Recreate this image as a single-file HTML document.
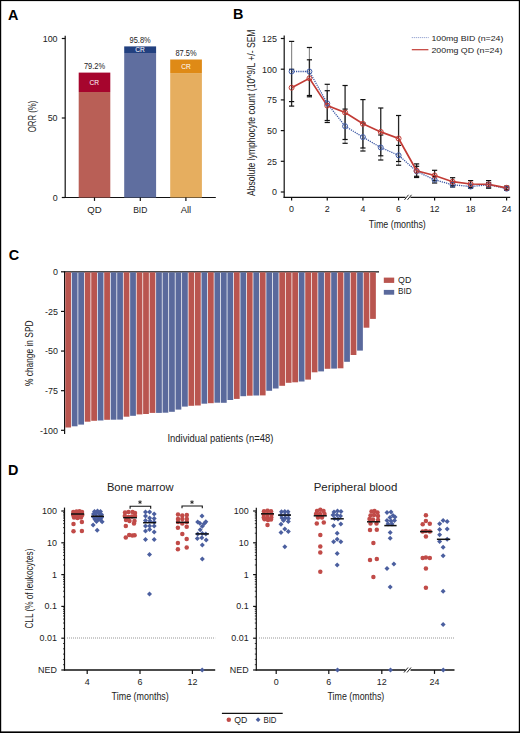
<!DOCTYPE html>
<html><head><meta charset="utf-8"><style>
html,body{margin:0;padding:0;background:#fff;width:520px;height:733px;overflow:hidden}
svg{display:block}
text{font-family:"Liberation Sans", sans-serif}
</style></head><body>
<svg width="520" height="733" viewBox="0 0 520 733">
<rect width="520" height="733" fill="#fff"/>
<rect x="0.00" y="0.00" width="520.00" height="1.10" fill="#000"/>
<rect x="0.00" y="0.00" width="1.20" height="733.00" fill="#000"/>
<rect x="518.80" y="0.00" width="1.20" height="733.00" fill="#000"/>
<rect x="0.00" y="731.40" width="520.00" height="1.60" fill="#000"/>
<text x="7.90" y="19.60" font-size="14.4" text-anchor="start" fill="#000" font-weight="bold" >A</text>
<text x="232.90" y="18.50" font-size="14.4" text-anchor="start" fill="#000" font-weight="bold" >B</text>
<text x="8.70" y="259.80" font-size="14.4" text-anchor="start" fill="#000" font-weight="bold" >C</text>
<text x="8.10" y="474.60" font-size="14.4" text-anchor="start" fill="#000" font-weight="bold" >D</text>
<line x1="65.20" y1="35.80" x2="65.20" y2="198.10" stroke="#111" stroke-width="1.2" />
<line x1="64.60" y1="197.50" x2="215.80" y2="197.50" stroke="#111" stroke-width="1.2" />
<line x1="61.80" y1="197.50" x2="65.20" y2="197.50" stroke="#111" stroke-width="1.2" />
<text x="57.60" y="200.80" font-size="9.6" text-anchor="end" fill="#222" textLength="4.97" lengthAdjust="spacingAndGlyphs" >0</text>
<line x1="61.80" y1="118.00" x2="65.20" y2="118.00" stroke="#111" stroke-width="1.2" />
<text x="57.60" y="121.30" font-size="9.6" text-anchor="end" fill="#222" textLength="9.93" lengthAdjust="spacingAndGlyphs" >50</text>
<line x1="61.80" y1="38.50" x2="65.20" y2="38.50" stroke="#111" stroke-width="1.2" />
<text x="57.60" y="41.80" font-size="9.6" text-anchor="end" fill="#222" textLength="14.90" lengthAdjust="spacingAndGlyphs" >100</text>
<rect x="78.70" y="92.00" width="31.60" height="105.50" fill="#b95f56"/>
<rect x="78.70" y="72.60" width="31.60" height="19.40" fill="#a6052d"/>
<line x1="94.50" y1="197.50" x2="94.50" y2="200.90" stroke="#111" stroke-width="1.2" />
<text x="94.50" y="212.90" font-size="9.6" text-anchor="middle" fill="#222" textLength="14.40" lengthAdjust="spacingAndGlyphs" >QD</text>
<text x="94.50" y="69.30" font-size="8.3" text-anchor="middle" fill="#222" textLength="21.20" lengthAdjust="spacingAndGlyphs" >79.2%</text>
<rect x="124.20" y="53.00" width="31.90" height="144.50" fill="#5f6e9f"/>
<rect x="124.20" y="46.40" width="31.90" height="6.60" fill="#22407f"/>
<line x1="140.30" y1="197.50" x2="140.30" y2="200.90" stroke="#111" stroke-width="1.2" />
<text x="140.30" y="212.90" font-size="9.6" text-anchor="middle" fill="#222" textLength="14.20" lengthAdjust="spacingAndGlyphs" >BID</text>
<text x="140.15" y="43.10" font-size="8.3" text-anchor="middle" fill="#222" textLength="21.20" lengthAdjust="spacingAndGlyphs" >95.8%</text>
<rect x="170.20" y="73.10" width="31.70" height="124.40" fill="#e6ae5f"/>
<rect x="170.20" y="59.50" width="31.70" height="13.60" fill="#df8a16"/>
<line x1="185.90" y1="197.50" x2="185.90" y2="200.90" stroke="#111" stroke-width="1.2" />
<text x="185.90" y="212.90" font-size="9.6" text-anchor="middle" fill="#222" textLength="10.50" lengthAdjust="spacingAndGlyphs" >All</text>
<text x="186.05" y="56.30" font-size="8.3" text-anchor="middle" fill="#222" textLength="21.20" lengthAdjust="spacingAndGlyphs" >87.5%</text>
<text x="94.30" y="84.90" font-size="8" text-anchor="middle" fill="#fff" textLength="9.60" lengthAdjust="spacingAndGlyphs" >CR</text>
<text x="140.00" y="52.10" font-size="8" text-anchor="middle" fill="#fff" textLength="9.60" lengthAdjust="spacingAndGlyphs" >CR</text>
<text x="186.10" y="68.90" font-size="8" text-anchor="middle" fill="#fff" textLength="9.60" lengthAdjust="spacingAndGlyphs" >CR</text>
<text x="36.30" y="132.30" font-size="11" text-anchor="start" fill="#222" textLength="31.70" lengthAdjust="spacingAndGlyphs" transform="rotate(-90 36.30 132.30)" >ORR (%)</text>
<line x1="284.20" y1="35.40" x2="284.20" y2="197.90" stroke="#111" stroke-width="1.2" />
<line x1="280.80" y1="192.00" x2="284.20" y2="192.00" stroke="#111" stroke-width="1.2" />
<text x="277.00" y="195.30" font-size="9.6" text-anchor="end" fill="#222" textLength="4.97" lengthAdjust="spacingAndGlyphs" >0</text>
<line x1="280.80" y1="161.30" x2="284.20" y2="161.30" stroke="#111" stroke-width="1.2" />
<text x="277.00" y="164.60" font-size="9.6" text-anchor="end" fill="#222" textLength="9.93" lengthAdjust="spacingAndGlyphs" >25</text>
<line x1="280.80" y1="130.60" x2="284.20" y2="130.60" stroke="#111" stroke-width="1.2" />
<text x="277.00" y="133.90" font-size="9.6" text-anchor="end" fill="#222" textLength="9.93" lengthAdjust="spacingAndGlyphs" >50</text>
<line x1="280.80" y1="99.90" x2="284.20" y2="99.90" stroke="#111" stroke-width="1.2" />
<text x="277.00" y="103.20" font-size="9.6" text-anchor="end" fill="#222" textLength="9.93" lengthAdjust="spacingAndGlyphs" >75</text>
<line x1="280.80" y1="69.20" x2="284.20" y2="69.20" stroke="#111" stroke-width="1.2" />
<text x="277.00" y="72.50" font-size="9.6" text-anchor="end" fill="#222" textLength="14.90" lengthAdjust="spacingAndGlyphs" >100</text>
<line x1="280.80" y1="38.50" x2="284.20" y2="38.50" stroke="#111" stroke-width="1.2" />
<text x="277.00" y="41.80" font-size="9.6" text-anchor="end" fill="#222" textLength="14.90" lengthAdjust="spacingAndGlyphs" >125</text>
<line x1="283.60" y1="197.30" x2="405.50" y2="197.30" stroke="#111" stroke-width="1.2" />
<line x1="410.50" y1="197.30" x2="510.20" y2="197.30" stroke="#111" stroke-width="1.2" />
<line x1="404.50" y1="199.80" x2="408.50" y2="194.80" stroke="#111" stroke-width="0.9" />
<line x1="407.50" y1="199.80" x2="411.50" y2="194.80" stroke="#111" stroke-width="0.9" />
<line x1="291.60" y1="197.30" x2="291.60" y2="200.40" stroke="#111" stroke-width="1.2" />
<text x="291.60" y="212.40" font-size="9.6" text-anchor="middle" fill="#222" textLength="4.97" lengthAdjust="spacingAndGlyphs" >0</text>
<line x1="327.26" y1="197.30" x2="327.26" y2="200.40" stroke="#111" stroke-width="1.2" />
<text x="327.26" y="212.40" font-size="9.6" text-anchor="middle" fill="#222" textLength="4.97" lengthAdjust="spacingAndGlyphs" >2</text>
<line x1="362.92" y1="197.30" x2="362.92" y2="200.40" stroke="#111" stroke-width="1.2" />
<text x="362.92" y="212.40" font-size="9.6" text-anchor="middle" fill="#222" textLength="4.97" lengthAdjust="spacingAndGlyphs" >4</text>
<line x1="398.58" y1="197.30" x2="398.58" y2="200.40" stroke="#111" stroke-width="1.2" />
<text x="398.58" y="212.40" font-size="9.6" text-anchor="middle" fill="#222" textLength="4.97" lengthAdjust="spacingAndGlyphs" >6</text>
<line x1="434.60" y1="197.30" x2="434.60" y2="200.40" stroke="#111" stroke-width="1.2" />
<text x="434.60" y="212.40" font-size="9.6" text-anchor="middle" fill="#222" textLength="9.93" lengthAdjust="spacingAndGlyphs" >12</text>
<line x1="470.60" y1="197.30" x2="470.60" y2="200.40" stroke="#111" stroke-width="1.2" />
<text x="470.60" y="212.40" font-size="9.6" text-anchor="middle" fill="#222" textLength="9.93" lengthAdjust="spacingAndGlyphs" >18</text>
<line x1="506.60" y1="197.30" x2="506.60" y2="200.40" stroke="#111" stroke-width="1.2" />
<text x="506.60" y="212.40" font-size="9.6" text-anchor="middle" fill="#222" textLength="9.93" lengthAdjust="spacingAndGlyphs" >24</text>
<text x="397.30" y="227.60" font-size="11" text-anchor="middle" fill="#222" textLength="57.00" lengthAdjust="spacingAndGlyphs" >Time (months)</text>
<text x="255.00" y="196.00" font-size="11.3" text-anchor="start" fill="#222" textLength="166.50" lengthAdjust="spacingAndGlyphs" transform="rotate(-90 255.00 196.00)" >Absolute lymphocyte count (10^9/L +/- SEM</text>
<line x1="291.60" y1="41.40" x2="291.60" y2="101.60" stroke="#8c8c8c" stroke-width="1.2" />
<line x1="309.43" y1="47.50" x2="309.43" y2="95.50" stroke="#8c8c8c" stroke-width="1.2" />
<line x1="327.26" y1="84.30" x2="327.26" y2="122.50" stroke="#8c8c8c" stroke-width="1.2" />
<line x1="345.09" y1="109.10" x2="345.09" y2="143.30" stroke="#8c8c8c" stroke-width="1.2" />
<line x1="362.92" y1="123.20" x2="362.92" y2="151.00" stroke="#8c8c8c" stroke-width="1.2" />
<line x1="380.75" y1="135.00" x2="380.75" y2="160.00" stroke="#8c8c8c" stroke-width="1.2" />
<line x1="398.58" y1="145.40" x2="398.58" y2="165.20" stroke="#8c8c8c" stroke-width="1.2" />
<line x1="416.60" y1="166.30" x2="416.60" y2="176.30" stroke="#8c8c8c" stroke-width="1.2" />
<line x1="434.60" y1="176.60" x2="434.60" y2="183.00" stroke="#8c8c8c" stroke-width="1.2" />
<line x1="452.60" y1="182.60" x2="452.60" y2="187.00" stroke="#8c8c8c" stroke-width="1.2" />
<line x1="470.60" y1="184.80" x2="470.60" y2="188.20" stroke="#8c8c8c" stroke-width="1.2" />
<line x1="488.60" y1="182.60" x2="488.60" y2="187.00" stroke="#8c8c8c" stroke-width="1.2" />
<line x1="506.60" y1="187.10" x2="506.60" y2="190.30" stroke="#8c8c8c" stroke-width="1.2" />
<line x1="291.60" y1="69.30" x2="291.60" y2="106.10" stroke="#262626" stroke-width="1.3" />
<line x1="309.43" y1="59.80" x2="309.43" y2="96.80" stroke="#262626" stroke-width="1.3" />
<line x1="327.26" y1="90.70" x2="327.26" y2="120.50" stroke="#262626" stroke-width="1.3" />
<line x1="345.09" y1="85.50" x2="345.09" y2="139.50" stroke="#262626" stroke-width="1.3" />
<line x1="362.92" y1="99.60" x2="362.92" y2="148.00" stroke="#262626" stroke-width="1.3" />
<line x1="380.75" y1="108.00" x2="380.75" y2="155.80" stroke="#262626" stroke-width="1.3" />
<line x1="398.58" y1="115.50" x2="398.58" y2="161.50" stroke="#262626" stroke-width="1.3" />
<line x1="416.60" y1="163.90" x2="416.60" y2="177.50" stroke="#262626" stroke-width="1.3" />
<line x1="434.60" y1="170.30" x2="434.60" y2="180.70" stroke="#262626" stroke-width="1.3" />
<line x1="452.60" y1="177.70" x2="452.60" y2="185.70" stroke="#262626" stroke-width="1.3" />
<line x1="470.60" y1="180.60" x2="470.60" y2="187.40" stroke="#262626" stroke-width="1.3" />
<line x1="488.60" y1="180.60" x2="488.60" y2="188.20" stroke="#262626" stroke-width="1.3" />
<line x1="506.60" y1="186.10" x2="506.60" y2="189.50" stroke="#262626" stroke-width="1.3" />
<line x1="289.00" y1="41.40" x2="294.20" y2="41.40" stroke="#111" stroke-width="1.2" />
<line x1="289.00" y1="101.60" x2="294.20" y2="101.60" stroke="#111" stroke-width="1.2" />
<line x1="289.00" y1="69.30" x2="294.20" y2="69.30" stroke="#111" stroke-width="1.2" />
<line x1="289.00" y1="106.10" x2="294.20" y2="106.10" stroke="#111" stroke-width="1.2" />
<line x1="306.83" y1="47.50" x2="312.03" y2="47.50" stroke="#111" stroke-width="1.2" />
<line x1="306.83" y1="95.50" x2="312.03" y2="95.50" stroke="#111" stroke-width="1.2" />
<line x1="306.83" y1="59.80" x2="312.03" y2="59.80" stroke="#111" stroke-width="1.2" />
<line x1="306.83" y1="96.80" x2="312.03" y2="96.80" stroke="#111" stroke-width="1.2" />
<line x1="324.66" y1="84.30" x2="329.86" y2="84.30" stroke="#111" stroke-width="1.2" />
<line x1="324.66" y1="122.50" x2="329.86" y2="122.50" stroke="#111" stroke-width="1.2" />
<line x1="324.66" y1="90.70" x2="329.86" y2="90.70" stroke="#111" stroke-width="1.2" />
<line x1="324.66" y1="120.50" x2="329.86" y2="120.50" stroke="#111" stroke-width="1.2" />
<line x1="342.49" y1="109.10" x2="347.69" y2="109.10" stroke="#111" stroke-width="1.2" />
<line x1="342.49" y1="143.30" x2="347.69" y2="143.30" stroke="#111" stroke-width="1.2" />
<line x1="342.49" y1="85.50" x2="347.69" y2="85.50" stroke="#111" stroke-width="1.2" />
<line x1="342.49" y1="139.50" x2="347.69" y2="139.50" stroke="#111" stroke-width="1.2" />
<line x1="360.32" y1="123.20" x2="365.52" y2="123.20" stroke="#111" stroke-width="1.2" />
<line x1="360.32" y1="151.00" x2="365.52" y2="151.00" stroke="#111" stroke-width="1.2" />
<line x1="360.32" y1="99.60" x2="365.52" y2="99.60" stroke="#111" stroke-width="1.2" />
<line x1="360.32" y1="148.00" x2="365.52" y2="148.00" stroke="#111" stroke-width="1.2" />
<line x1="378.15" y1="135.00" x2="383.35" y2="135.00" stroke="#111" stroke-width="1.2" />
<line x1="378.15" y1="160.00" x2="383.35" y2="160.00" stroke="#111" stroke-width="1.2" />
<line x1="378.15" y1="108.00" x2="383.35" y2="108.00" stroke="#111" stroke-width="1.2" />
<line x1="378.15" y1="155.80" x2="383.35" y2="155.80" stroke="#111" stroke-width="1.2" />
<line x1="395.98" y1="145.40" x2="401.18" y2="145.40" stroke="#111" stroke-width="1.2" />
<line x1="395.98" y1="165.20" x2="401.18" y2="165.20" stroke="#111" stroke-width="1.2" />
<line x1="395.98" y1="115.50" x2="401.18" y2="115.50" stroke="#111" stroke-width="1.2" />
<line x1="395.98" y1="161.50" x2="401.18" y2="161.50" stroke="#111" stroke-width="1.2" />
<line x1="414.00" y1="166.30" x2="419.20" y2="166.30" stroke="#111" stroke-width="1.2" />
<line x1="414.00" y1="176.30" x2="419.20" y2="176.30" stroke="#111" stroke-width="1.2" />
<line x1="414.00" y1="163.90" x2="419.20" y2="163.90" stroke="#111" stroke-width="1.2" />
<line x1="414.00" y1="177.50" x2="419.20" y2="177.50" stroke="#111" stroke-width="1.2" />
<line x1="432.00" y1="176.60" x2="437.20" y2="176.60" stroke="#111" stroke-width="1.2" />
<line x1="432.00" y1="183.00" x2="437.20" y2="183.00" stroke="#111" stroke-width="1.2" />
<line x1="432.00" y1="170.30" x2="437.20" y2="170.30" stroke="#111" stroke-width="1.2" />
<line x1="432.00" y1="180.70" x2="437.20" y2="180.70" stroke="#111" stroke-width="1.2" />
<line x1="450.00" y1="182.60" x2="455.20" y2="182.60" stroke="#111" stroke-width="1.2" />
<line x1="450.00" y1="187.00" x2="455.20" y2="187.00" stroke="#111" stroke-width="1.2" />
<line x1="450.00" y1="177.70" x2="455.20" y2="177.70" stroke="#111" stroke-width="1.2" />
<line x1="450.00" y1="185.70" x2="455.20" y2="185.70" stroke="#111" stroke-width="1.2" />
<line x1="468.00" y1="184.80" x2="473.20" y2="184.80" stroke="#111" stroke-width="1.2" />
<line x1="468.00" y1="188.20" x2="473.20" y2="188.20" stroke="#111" stroke-width="1.2" />
<line x1="468.00" y1="180.60" x2="473.20" y2="180.60" stroke="#111" stroke-width="1.2" />
<line x1="468.00" y1="187.40" x2="473.20" y2="187.40" stroke="#111" stroke-width="1.2" />
<line x1="486.00" y1="182.60" x2="491.20" y2="182.60" stroke="#111" stroke-width="1.2" />
<line x1="486.00" y1="187.00" x2="491.20" y2="187.00" stroke="#111" stroke-width="1.2" />
<line x1="486.00" y1="180.60" x2="491.20" y2="180.60" stroke="#111" stroke-width="1.2" />
<line x1="486.00" y1="188.20" x2="491.20" y2="188.20" stroke="#111" stroke-width="1.2" />
<line x1="504.00" y1="187.10" x2="509.20" y2="187.10" stroke="#111" stroke-width="1.2" />
<line x1="504.00" y1="190.30" x2="509.20" y2="190.30" stroke="#111" stroke-width="1.2" />
<line x1="504.00" y1="186.10" x2="509.20" y2="186.10" stroke="#111" stroke-width="1.2" />
<line x1="504.00" y1="189.50" x2="509.20" y2="189.50" stroke="#111" stroke-width="1.2" />
<polyline points="291.60,71.50 309.43,71.50 327.26,103.40 345.09,126.20 362.92,137.10 380.75,147.50 398.58,155.30 416.60,171.30 434.60,179.80 452.60,184.80 470.60,186.50 488.60,184.80 506.60,188.70" fill="none" stroke="#3a56a3" stroke-width="1.3" stroke-dasharray="1.2 1"/>
<polyline points="291.60,87.70 309.43,78.30 327.26,105.60 345.09,112.50 362.92,123.80 380.75,131.90 398.58,138.50 416.60,170.70 434.60,175.50 452.60,181.70 470.60,184.00 488.60,184.40 506.60,187.80" fill="none" stroke="#c23b35" stroke-width="1.7"/>
<circle cx="291.60" cy="71.50" r="2.5" fill="none" stroke="#3f5ca8" stroke-width="1"/>
<circle cx="291.60" cy="87.70" r="2.5" fill="none" stroke="#c23b35" stroke-width="1"/>
<circle cx="309.43" cy="71.50" r="2.5" fill="none" stroke="#3f5ca8" stroke-width="1"/>
<circle cx="309.43" cy="78.30" r="2.5" fill="none" stroke="#c23b35" stroke-width="1"/>
<circle cx="327.26" cy="103.40" r="2.5" fill="none" stroke="#3f5ca8" stroke-width="1"/>
<circle cx="327.26" cy="105.60" r="2.5" fill="none" stroke="#c23b35" stroke-width="1"/>
<circle cx="345.09" cy="126.20" r="2.5" fill="none" stroke="#3f5ca8" stroke-width="1"/>
<circle cx="345.09" cy="112.50" r="2.5" fill="none" stroke="#c23b35" stroke-width="1"/>
<circle cx="362.92" cy="137.10" r="2.5" fill="none" stroke="#3f5ca8" stroke-width="1"/>
<circle cx="362.92" cy="123.80" r="2.5" fill="none" stroke="#c23b35" stroke-width="1"/>
<circle cx="380.75" cy="147.50" r="2.5" fill="none" stroke="#3f5ca8" stroke-width="1"/>
<circle cx="380.75" cy="131.90" r="2.5" fill="none" stroke="#c23b35" stroke-width="1"/>
<circle cx="398.58" cy="155.30" r="2.5" fill="none" stroke="#3f5ca8" stroke-width="1"/>
<circle cx="398.58" cy="138.50" r="2.5" fill="none" stroke="#c23b35" stroke-width="1"/>
<circle cx="416.60" cy="171.30" r="2.5" fill="none" stroke="#3f5ca8" stroke-width="1"/>
<circle cx="416.60" cy="170.70" r="2.5" fill="none" stroke="#c23b35" stroke-width="1"/>
<circle cx="434.60" cy="179.80" r="2.5" fill="none" stroke="#3f5ca8" stroke-width="1"/>
<circle cx="434.60" cy="175.50" r="2.5" fill="none" stroke="#c23b35" stroke-width="1"/>
<circle cx="452.60" cy="184.80" r="2.5" fill="none" stroke="#3f5ca8" stroke-width="1"/>
<circle cx="452.60" cy="181.70" r="2.5" fill="none" stroke="#c23b35" stroke-width="1"/>
<circle cx="470.60" cy="186.50" r="2.5" fill="none" stroke="#3f5ca8" stroke-width="1"/>
<circle cx="470.60" cy="184.00" r="2.5" fill="none" stroke="#c23b35" stroke-width="1"/>
<circle cx="488.60" cy="184.80" r="2.5" fill="none" stroke="#3f5ca8" stroke-width="1"/>
<circle cx="488.60" cy="184.40" r="2.5" fill="none" stroke="#c23b35" stroke-width="1"/>
<circle cx="506.60" cy="188.70" r="2.5" fill="none" stroke="#3f5ca8" stroke-width="1"/>
<circle cx="506.60" cy="187.80" r="2.5" fill="none" stroke="#c23b35" stroke-width="1"/>
<line x1="411.80" y1="37.60" x2="428.60" y2="37.60" stroke="#7f90c8" stroke-width="1.0" stroke-dasharray="1 1"/>
<line x1="411.80" y1="49.70" x2="428.40" y2="49.70" stroke="#c23b35" stroke-width="1.2" />
<text x="431.40" y="41.10" font-size="8.0" text-anchor="start" fill="#222" textLength="72.00" lengthAdjust="spacingAndGlyphs" >100mg BID (n=24)</text>
<text x="431.40" y="53.00" font-size="8.0" text-anchor="start" fill="#222" textLength="71.00" lengthAdjust="spacingAndGlyphs" >200mg QD (n=24)</text>
<line x1="64.60" y1="271.30" x2="64.60" y2="433.90" stroke="#111" stroke-width="1.2" />
<line x1="64.00" y1="271.80" x2="379.00" y2="271.80" stroke="#111" stroke-width="1.3" />
<line x1="61.00" y1="271.80" x2="64.60" y2="271.80" stroke="#111" stroke-width="1.2" />
<text x="57.90" y="275.10" font-size="9.6" text-anchor="end" fill="#222" textLength="4.97" lengthAdjust="spacingAndGlyphs" >0</text>
<line x1="61.00" y1="311.43" x2="64.60" y2="311.43" stroke="#111" stroke-width="1.2" />
<text x="57.90" y="314.73" font-size="9.6" text-anchor="end" fill="#222" textLength="12.90" lengthAdjust="spacingAndGlyphs" >-25</text>
<line x1="61.00" y1="351.05" x2="64.60" y2="351.05" stroke="#111" stroke-width="1.2" />
<text x="57.90" y="354.35" font-size="9.6" text-anchor="end" fill="#222" textLength="12.90" lengthAdjust="spacingAndGlyphs" >-50</text>
<line x1="61.00" y1="390.68" x2="64.60" y2="390.68" stroke="#111" stroke-width="1.2" />
<text x="57.90" y="393.98" font-size="9.6" text-anchor="end" fill="#222" textLength="12.90" lengthAdjust="spacingAndGlyphs" >-75</text>
<line x1="61.00" y1="430.30" x2="64.60" y2="430.30" stroke="#111" stroke-width="1.2" />
<text x="57.90" y="433.60" font-size="9.6" text-anchor="end" fill="#222" textLength="17.87" lengthAdjust="spacingAndGlyphs" >-100</text>
<rect x="65.30" y="272.30" width="5.75" height="155.20" fill="#b9554f"/>
<rect x="71.78" y="272.30" width="5.75" height="154.00" fill="#5a699c"/>
<rect x="78.27" y="272.30" width="5.75" height="152.30" fill="#5a699c"/>
<rect x="84.75" y="272.30" width="5.75" height="149.40" fill="#b9554f"/>
<rect x="91.24" y="272.30" width="5.75" height="148.50" fill="#b9554f"/>
<rect x="97.72" y="272.30" width="5.75" height="148.20" fill="#5a699c"/>
<rect x="104.21" y="272.30" width="5.75" height="147.50" fill="#b9554f"/>
<rect x="110.69" y="272.30" width="5.75" height="147.40" fill="#5a699c"/>
<rect x="117.18" y="272.30" width="5.75" height="147.30" fill="#5a699c"/>
<rect x="123.66" y="272.30" width="5.75" height="144.40" fill="#b9554f"/>
<rect x="130.15" y="272.30" width="5.75" height="143.50" fill="#5a699c"/>
<rect x="136.63" y="272.30" width="5.75" height="142.10" fill="#b9554f"/>
<rect x="143.12" y="272.30" width="5.75" height="141.70" fill="#b9554f"/>
<rect x="149.61" y="272.30" width="5.75" height="140.60" fill="#b9554f"/>
<rect x="156.09" y="272.30" width="5.75" height="140.60" fill="#5a699c"/>
<rect x="162.57" y="272.30" width="5.75" height="140.40" fill="#5a699c"/>
<rect x="169.06" y="272.30" width="5.75" height="139.50" fill="#5a699c"/>
<rect x="175.55" y="272.30" width="5.75" height="137.30" fill="#5a699c"/>
<rect x="182.03" y="272.30" width="5.75" height="134.30" fill="#5a699c"/>
<rect x="188.51" y="272.30" width="5.75" height="133.50" fill="#b9554f"/>
<rect x="195.00" y="272.30" width="5.75" height="133.20" fill="#b9554f"/>
<rect x="201.49" y="272.30" width="5.75" height="131.40" fill="#5a699c"/>
<rect x="207.97" y="272.30" width="5.75" height="130.90" fill="#b9554f"/>
<rect x="214.45" y="272.30" width="5.75" height="130.40" fill="#5a699c"/>
<rect x="220.94" y="272.30" width="5.75" height="130.50" fill="#5a699c"/>
<rect x="227.43" y="272.30" width="5.75" height="127.70" fill="#5a699c"/>
<rect x="233.91" y="272.30" width="5.75" height="126.60" fill="#b9554f"/>
<rect x="240.39" y="272.30" width="5.75" height="123.90" fill="#5a699c"/>
<rect x="246.88" y="272.30" width="5.75" height="123.40" fill="#b9554f"/>
<rect x="253.37" y="272.30" width="5.75" height="123.20" fill="#5a699c"/>
<rect x="259.85" y="272.30" width="5.75" height="123.10" fill="#b9554f"/>
<rect x="266.33" y="272.30" width="5.75" height="118.50" fill="#5a699c"/>
<rect x="272.82" y="272.30" width="5.75" height="116.20" fill="#5a699c"/>
<rect x="279.31" y="272.30" width="5.75" height="113.50" fill="#b9554f"/>
<rect x="285.79" y="272.30" width="5.75" height="110.50" fill="#b9554f"/>
<rect x="292.28" y="272.30" width="5.75" height="110.00" fill="#b9554f"/>
<rect x="298.76" y="272.30" width="5.75" height="109.20" fill="#5a699c"/>
<rect x="305.25" y="272.30" width="5.75" height="107.30" fill="#b9554f"/>
<rect x="311.73" y="272.30" width="5.75" height="100.00" fill="#b9554f"/>
<rect x="318.22" y="272.30" width="5.75" height="99.10" fill="#5a699c"/>
<rect x="324.70" y="272.30" width="5.75" height="96.50" fill="#b9554f"/>
<rect x="331.19" y="272.30" width="5.75" height="96.30" fill="#5a699c"/>
<rect x="337.67" y="272.30" width="5.75" height="96.00" fill="#b9554f"/>
<rect x="344.16" y="272.30" width="5.75" height="89.50" fill="#5a699c"/>
<rect x="350.64" y="272.30" width="5.75" height="82.70" fill="#b9554f"/>
<rect x="357.12" y="272.30" width="5.75" height="78.30" fill="#5a699c"/>
<rect x="363.61" y="272.30" width="5.75" height="55.40" fill="#b9554f"/>
<rect x="370.10" y="272.30" width="5.75" height="46.60" fill="#b9554f"/>
<rect x="383.80" y="277.60" width="10.40" height="5.30" fill="#b9554f"/>
<rect x="383.80" y="289.90" width="10.40" height="4.80" fill="#5a699c"/>
<text x="398.10" y="282.90" font-size="8.2" text-anchor="start" fill="#222" textLength="13.20" lengthAdjust="spacingAndGlyphs" >QD</text>
<text x="398.10" y="294.40" font-size="8.2" text-anchor="start" fill="#222" textLength="13.60" lengthAdjust="spacingAndGlyphs" >BID</text>
<text x="220.40" y="442.00" font-size="11" text-anchor="middle" fill="#222" textLength="105.90" lengthAdjust="spacingAndGlyphs" >Individual patients (n=48)</text>
<text x="33.10" y="386.00" font-size="11" text-anchor="start" fill="#222" textLength="65.50" lengthAdjust="spacingAndGlyphs" transform="rotate(-90 33.10 386.00)" >% change in SPD</text>
<line x1="64.50" y1="507.60" x2="64.50" y2="670.60" stroke="#111" stroke-width="1.2" />
<line x1="61.30" y1="511.00" x2="64.50" y2="511.00" stroke="#111" stroke-width="1.2" />
<line x1="61.30" y1="542.80" x2="64.50" y2="542.80" stroke="#111" stroke-width="1.2" />
<line x1="61.30" y1="574.60" x2="64.50" y2="574.60" stroke="#111" stroke-width="1.2" />
<line x1="61.30" y1="606.40" x2="64.50" y2="606.40" stroke="#111" stroke-width="1.2" />
<line x1="61.30" y1="638.20" x2="64.50" y2="638.20" stroke="#111" stroke-width="1.2" />
<line x1="61.30" y1="670.00" x2="64.50" y2="670.00" stroke="#111" stroke-width="1.2" />
<line x1="63.00" y1="533.23" x2="64.50" y2="533.23" stroke="#111" stroke-width="0.8" />
<line x1="63.00" y1="527.63" x2="64.50" y2="527.63" stroke="#111" stroke-width="0.8" />
<line x1="63.00" y1="523.65" x2="64.50" y2="523.65" stroke="#111" stroke-width="0.8" />
<line x1="63.00" y1="520.57" x2="64.50" y2="520.57" stroke="#111" stroke-width="0.8" />
<line x1="63.00" y1="518.05" x2="64.50" y2="518.05" stroke="#111" stroke-width="0.8" />
<line x1="63.00" y1="515.93" x2="64.50" y2="515.93" stroke="#111" stroke-width="0.8" />
<line x1="63.00" y1="514.08" x2="64.50" y2="514.08" stroke="#111" stroke-width="0.8" />
<line x1="63.00" y1="512.46" x2="64.50" y2="512.46" stroke="#111" stroke-width="0.8" />
<line x1="63.00" y1="565.03" x2="64.50" y2="565.03" stroke="#111" stroke-width="0.8" />
<line x1="63.00" y1="559.43" x2="64.50" y2="559.43" stroke="#111" stroke-width="0.8" />
<line x1="63.00" y1="555.45" x2="64.50" y2="555.45" stroke="#111" stroke-width="0.8" />
<line x1="63.00" y1="552.37" x2="64.50" y2="552.37" stroke="#111" stroke-width="0.8" />
<line x1="63.00" y1="549.85" x2="64.50" y2="549.85" stroke="#111" stroke-width="0.8" />
<line x1="63.00" y1="547.73" x2="64.50" y2="547.73" stroke="#111" stroke-width="0.8" />
<line x1="63.00" y1="545.88" x2="64.50" y2="545.88" stroke="#111" stroke-width="0.8" />
<line x1="63.00" y1="544.26" x2="64.50" y2="544.26" stroke="#111" stroke-width="0.8" />
<line x1="63.00" y1="596.83" x2="64.50" y2="596.83" stroke="#111" stroke-width="0.8" />
<line x1="63.00" y1="591.23" x2="64.50" y2="591.23" stroke="#111" stroke-width="0.8" />
<line x1="63.00" y1="587.25" x2="64.50" y2="587.25" stroke="#111" stroke-width="0.8" />
<line x1="63.00" y1="584.17" x2="64.50" y2="584.17" stroke="#111" stroke-width="0.8" />
<line x1="63.00" y1="581.65" x2="64.50" y2="581.65" stroke="#111" stroke-width="0.8" />
<line x1="63.00" y1="579.53" x2="64.50" y2="579.53" stroke="#111" stroke-width="0.8" />
<line x1="63.00" y1="577.68" x2="64.50" y2="577.68" stroke="#111" stroke-width="0.8" />
<line x1="63.00" y1="576.06" x2="64.50" y2="576.06" stroke="#111" stroke-width="0.8" />
<line x1="63.00" y1="628.63" x2="64.50" y2="628.63" stroke="#111" stroke-width="0.8" />
<line x1="63.00" y1="623.03" x2="64.50" y2="623.03" stroke="#111" stroke-width="0.8" />
<line x1="63.00" y1="619.05" x2="64.50" y2="619.05" stroke="#111" stroke-width="0.8" />
<line x1="63.00" y1="615.97" x2="64.50" y2="615.97" stroke="#111" stroke-width="0.8" />
<line x1="63.00" y1="613.45" x2="64.50" y2="613.45" stroke="#111" stroke-width="0.8" />
<line x1="63.00" y1="611.33" x2="64.50" y2="611.33" stroke="#111" stroke-width="0.8" />
<line x1="63.00" y1="609.48" x2="64.50" y2="609.48" stroke="#111" stroke-width="0.8" />
<line x1="63.00" y1="607.86" x2="64.50" y2="607.86" stroke="#111" stroke-width="0.8" />
<line x1="63.00" y1="643.50" x2="64.50" y2="643.50" stroke="#111" stroke-width="0.8" />
<line x1="63.00" y1="648.80" x2="64.50" y2="648.80" stroke="#111" stroke-width="0.8" />
<line x1="63.00" y1="654.10" x2="64.50" y2="654.10" stroke="#111" stroke-width="0.8" />
<line x1="63.00" y1="659.40" x2="64.50" y2="659.40" stroke="#111" stroke-width="0.8" />
<line x1="63.00" y1="664.70" x2="64.50" y2="664.70" stroke="#111" stroke-width="0.8" />
<line x1="63.90" y1="670.00" x2="215.20" y2="670.00" stroke="#111" stroke-width="1.3" />
<line x1="67.00" y1="638.0" x2="215.20" y2="638.0" stroke="#8a8a8a" stroke-width="1" stroke-dasharray="0.9 1.1"/>
<text x="56.90" y="513.90" font-size="9.6" text-anchor="end" fill="#222" textLength="14.90" lengthAdjust="spacingAndGlyphs" >100</text>
<text x="56.90" y="545.70" font-size="9.6" text-anchor="end" fill="#222" textLength="9.93" lengthAdjust="spacingAndGlyphs" >10</text>
<text x="56.90" y="577.50" font-size="9.6" text-anchor="end" fill="#222" textLength="4.97" lengthAdjust="spacingAndGlyphs" >1</text>
<text x="56.90" y="609.30" font-size="9.6" text-anchor="end" fill="#222" textLength="12.41" lengthAdjust="spacingAndGlyphs" >0.1</text>
<text x="56.90" y="641.10" font-size="9.6" text-anchor="end" fill="#222" textLength="17.38" lengthAdjust="spacingAndGlyphs" >0.01</text>
<text x="56.90" y="672.80" font-size="9.6" text-anchor="end" fill="#222" textLength="18.85" lengthAdjust="spacingAndGlyphs" >NED</text>
<line x1="256.30" y1="507.80" x2="256.30" y2="670.60" stroke="#111" stroke-width="1.2" />
<line x1="253.10" y1="511.00" x2="256.30" y2="511.00" stroke="#111" stroke-width="1.2" />
<line x1="253.10" y1="542.80" x2="256.30" y2="542.80" stroke="#111" stroke-width="1.2" />
<line x1="253.10" y1="574.60" x2="256.30" y2="574.60" stroke="#111" stroke-width="1.2" />
<line x1="253.10" y1="606.40" x2="256.30" y2="606.40" stroke="#111" stroke-width="1.2" />
<line x1="253.10" y1="638.20" x2="256.30" y2="638.20" stroke="#111" stroke-width="1.2" />
<line x1="253.10" y1="670.00" x2="256.30" y2="670.00" stroke="#111" stroke-width="1.2" />
<line x1="254.80" y1="533.23" x2="256.30" y2="533.23" stroke="#111" stroke-width="0.8" />
<line x1="254.80" y1="527.63" x2="256.30" y2="527.63" stroke="#111" stroke-width="0.8" />
<line x1="254.80" y1="523.65" x2="256.30" y2="523.65" stroke="#111" stroke-width="0.8" />
<line x1="254.80" y1="520.57" x2="256.30" y2="520.57" stroke="#111" stroke-width="0.8" />
<line x1="254.80" y1="518.05" x2="256.30" y2="518.05" stroke="#111" stroke-width="0.8" />
<line x1="254.80" y1="515.93" x2="256.30" y2="515.93" stroke="#111" stroke-width="0.8" />
<line x1="254.80" y1="514.08" x2="256.30" y2="514.08" stroke="#111" stroke-width="0.8" />
<line x1="254.80" y1="512.46" x2="256.30" y2="512.46" stroke="#111" stroke-width="0.8" />
<line x1="254.80" y1="565.03" x2="256.30" y2="565.03" stroke="#111" stroke-width="0.8" />
<line x1="254.80" y1="559.43" x2="256.30" y2="559.43" stroke="#111" stroke-width="0.8" />
<line x1="254.80" y1="555.45" x2="256.30" y2="555.45" stroke="#111" stroke-width="0.8" />
<line x1="254.80" y1="552.37" x2="256.30" y2="552.37" stroke="#111" stroke-width="0.8" />
<line x1="254.80" y1="549.85" x2="256.30" y2="549.85" stroke="#111" stroke-width="0.8" />
<line x1="254.80" y1="547.73" x2="256.30" y2="547.73" stroke="#111" stroke-width="0.8" />
<line x1="254.80" y1="545.88" x2="256.30" y2="545.88" stroke="#111" stroke-width="0.8" />
<line x1="254.80" y1="544.26" x2="256.30" y2="544.26" stroke="#111" stroke-width="0.8" />
<line x1="254.80" y1="596.83" x2="256.30" y2="596.83" stroke="#111" stroke-width="0.8" />
<line x1="254.80" y1="591.23" x2="256.30" y2="591.23" stroke="#111" stroke-width="0.8" />
<line x1="254.80" y1="587.25" x2="256.30" y2="587.25" stroke="#111" stroke-width="0.8" />
<line x1="254.80" y1="584.17" x2="256.30" y2="584.17" stroke="#111" stroke-width="0.8" />
<line x1="254.80" y1="581.65" x2="256.30" y2="581.65" stroke="#111" stroke-width="0.8" />
<line x1="254.80" y1="579.53" x2="256.30" y2="579.53" stroke="#111" stroke-width="0.8" />
<line x1="254.80" y1="577.68" x2="256.30" y2="577.68" stroke="#111" stroke-width="0.8" />
<line x1="254.80" y1="576.06" x2="256.30" y2="576.06" stroke="#111" stroke-width="0.8" />
<line x1="254.80" y1="628.63" x2="256.30" y2="628.63" stroke="#111" stroke-width="0.8" />
<line x1="254.80" y1="623.03" x2="256.30" y2="623.03" stroke="#111" stroke-width="0.8" />
<line x1="254.80" y1="619.05" x2="256.30" y2="619.05" stroke="#111" stroke-width="0.8" />
<line x1="254.80" y1="615.97" x2="256.30" y2="615.97" stroke="#111" stroke-width="0.8" />
<line x1="254.80" y1="613.45" x2="256.30" y2="613.45" stroke="#111" stroke-width="0.8" />
<line x1="254.80" y1="611.33" x2="256.30" y2="611.33" stroke="#111" stroke-width="0.8" />
<line x1="254.80" y1="609.48" x2="256.30" y2="609.48" stroke="#111" stroke-width="0.8" />
<line x1="254.80" y1="607.86" x2="256.30" y2="607.86" stroke="#111" stroke-width="0.8" />
<line x1="254.80" y1="643.50" x2="256.30" y2="643.50" stroke="#111" stroke-width="0.8" />
<line x1="254.80" y1="648.80" x2="256.30" y2="648.80" stroke="#111" stroke-width="0.8" />
<line x1="254.80" y1="654.10" x2="256.30" y2="654.10" stroke="#111" stroke-width="0.8" />
<line x1="254.80" y1="659.40" x2="256.30" y2="659.40" stroke="#111" stroke-width="0.8" />
<line x1="254.80" y1="664.70" x2="256.30" y2="664.70" stroke="#111" stroke-width="0.8" />
<line x1="255.70" y1="670.00" x2="405.50" y2="670.00" stroke="#111" stroke-width="1.3" />
<line x1="410.50" y1="670.00" x2="454.50" y2="670.00" stroke="#111" stroke-width="1.3" />
<line x1="404.00" y1="672.50" x2="408.00" y2="667.50" stroke="#111" stroke-width="0.9" />
<line x1="407.00" y1="672.50" x2="411.00" y2="667.50" stroke="#111" stroke-width="0.9" />
<line x1="259.00" y1="638.0" x2="454.50" y2="638.0" stroke="#8a8a8a" stroke-width="1" stroke-dasharray="0.9 1.1"/>
<text x="248.70" y="513.90" font-size="9.6" text-anchor="end" fill="#222" textLength="14.90" lengthAdjust="spacingAndGlyphs" >100</text>
<text x="248.70" y="545.70" font-size="9.6" text-anchor="end" fill="#222" textLength="9.93" lengthAdjust="spacingAndGlyphs" >10</text>
<text x="248.70" y="577.50" font-size="9.6" text-anchor="end" fill="#222" textLength="4.97" lengthAdjust="spacingAndGlyphs" >1</text>
<text x="248.70" y="609.30" font-size="9.6" text-anchor="end" fill="#222" textLength="12.41" lengthAdjust="spacingAndGlyphs" >0.1</text>
<text x="248.70" y="641.10" font-size="9.6" text-anchor="end" fill="#222" textLength="17.38" lengthAdjust="spacingAndGlyphs" >0.01</text>
<text x="248.70" y="672.80" font-size="9.6" text-anchor="end" fill="#222" textLength="18.85" lengthAdjust="spacingAndGlyphs" >NED</text>
<line x1="87.20" y1="670.00" x2="87.20" y2="673.90" stroke="#111" stroke-width="1.2" />
<text x="87.20" y="685.40" font-size="9.6" text-anchor="middle" fill="#222" textLength="4.97" lengthAdjust="spacingAndGlyphs" >4</text>
<line x1="140.00" y1="670.00" x2="140.00" y2="673.90" stroke="#111" stroke-width="1.2" />
<text x="140.00" y="685.40" font-size="9.6" text-anchor="middle" fill="#222" textLength="4.97" lengthAdjust="spacingAndGlyphs" >6</text>
<line x1="192.40" y1="670.00" x2="192.40" y2="673.90" stroke="#111" stroke-width="1.2" />
<text x="192.40" y="685.40" font-size="9.6" text-anchor="middle" fill="#222" textLength="9.93" lengthAdjust="spacingAndGlyphs" >12</text>
<line x1="276.20" y1="670.00" x2="276.20" y2="673.90" stroke="#111" stroke-width="1.2" />
<text x="276.20" y="685.40" font-size="9.6" text-anchor="middle" fill="#222" textLength="4.97" lengthAdjust="spacingAndGlyphs" >0</text>
<line x1="328.80" y1="670.00" x2="328.80" y2="673.90" stroke="#111" stroke-width="1.2" />
<text x="328.80" y="685.40" font-size="9.6" text-anchor="middle" fill="#222" textLength="4.97" lengthAdjust="spacingAndGlyphs" >6</text>
<line x1="381.80" y1="670.00" x2="381.80" y2="673.90" stroke="#111" stroke-width="1.2" />
<text x="381.80" y="685.40" font-size="9.6" text-anchor="middle" fill="#222" textLength="9.93" lengthAdjust="spacingAndGlyphs" >12</text>
<line x1="434.50" y1="670.00" x2="434.50" y2="673.90" stroke="#111" stroke-width="1.2" />
<text x="434.50" y="685.40" font-size="9.6" text-anchor="middle" fill="#222" textLength="9.93" lengthAdjust="spacingAndGlyphs" >24</text>
<text x="140.20" y="700.00" font-size="11" text-anchor="middle" fill="#222" textLength="57.20" lengthAdjust="spacingAndGlyphs" >Time (months)</text>
<text x="355.90" y="700.00" font-size="11" text-anchor="middle" fill="#222" textLength="56.80" lengthAdjust="spacingAndGlyphs" >Time (months)</text>
<text x="140.20" y="490.90" font-size="11" text-anchor="middle" fill="#222" textLength="66.60" lengthAdjust="spacingAndGlyphs" >Bone marrow</text>
<text x="355.50" y="490.80" font-size="11" text-anchor="middle" fill="#222" textLength="83.60" lengthAdjust="spacingAndGlyphs" >Peripheral blood</text>
<text x="33.00" y="628.60" font-size="11" text-anchor="start" fill="#222" textLength="80.00" lengthAdjust="spacingAndGlyphs" transform="rotate(-90 33.00 628.60)" >CLL (% of leukocytes)</text>
<circle cx="73.30" cy="512.00" r="2.25" fill="#c14b48"/>
<circle cx="76.50" cy="511.50" r="2.25" fill="#c14b48"/>
<circle cx="79.50" cy="511.30" r="2.25" fill="#c14b48"/>
<circle cx="82.00" cy="512.00" r="2.25" fill="#c14b48"/>
<circle cx="73.20" cy="515.00" r="2.25" fill="#c14b48"/>
<circle cx="76.50" cy="515.00" r="2.25" fill="#c14b48"/>
<circle cx="79.50" cy="515.00" r="2.25" fill="#c14b48"/>
<circle cx="82.20" cy="515.00" r="2.25" fill="#c14b48"/>
<circle cx="74.00" cy="517.50" r="2.25" fill="#c14b48"/>
<circle cx="77.50" cy="518.00" r="2.25" fill="#c14b48"/>
<circle cx="81.00" cy="517.50" r="2.25" fill="#c14b48"/>
<circle cx="76.00" cy="517.00" r="2.25" fill="#c14b48"/>
<circle cx="79.50" cy="516.50" r="2.25" fill="#c14b48"/>
<circle cx="73.50" cy="524.10" r="2.25" fill="#c14b48"/>
<circle cx="81.90" cy="522.10" r="2.25" fill="#c14b48"/>
<circle cx="73.50" cy="531.30" r="2.25" fill="#c14b48"/>
<circle cx="81.90" cy="531.00" r="2.25" fill="#c14b48"/>
<line x1="71.00" y1="514.00" x2="84.20" y2="514.00" stroke="#111" stroke-width="1.5" />
<path d="M94.50 509.00L97.00 511.50L94.50 514.00L92.00 511.50Z" fill="#4b5f9f"/>
<path d="M97.50 508.50L100.00 511.00L97.50 513.50L95.00 511.00Z" fill="#4b5f9f"/>
<path d="M100.50 509.00L103.00 511.50L100.50 514.00L98.00 511.50Z" fill="#4b5f9f"/>
<path d="M93.50 511.50L96.00 514.00L93.50 516.50L91.00 514.00Z" fill="#4b5f9f"/>
<path d="M96.00 511.00L98.50 513.50L96.00 516.00L93.50 513.50Z" fill="#4b5f9f"/>
<path d="M99.00 511.00L101.50 513.50L99.00 516.00L96.50 513.50Z" fill="#4b5f9f"/>
<path d="M101.50 512.00L104.00 514.50L101.50 517.00L99.00 514.50Z" fill="#4b5f9f"/>
<path d="M93.50 514.50L96.00 517.00L93.50 519.50L91.00 517.00Z" fill="#4b5f9f"/>
<path d="M96.50 514.00L99.00 516.50L96.50 519.00L94.00 516.50Z" fill="#4b5f9f"/>
<path d="M99.50 514.50L102.00 517.00L99.50 519.50L97.00 517.00Z" fill="#4b5f9f"/>
<path d="M101.50 515.00L104.00 517.50L101.50 520.00L99.00 517.50Z" fill="#4b5f9f"/>
<path d="M95.00 517.00L97.50 519.50L95.00 522.00L92.50 519.50Z" fill="#4b5f9f"/>
<path d="M98.00 517.00L100.50 519.50L98.00 522.00L95.50 519.50Z" fill="#4b5f9f"/>
<path d="M100.50 517.50L103.00 520.00L100.50 522.50L98.00 520.00Z" fill="#4b5f9f"/>
<path d="M96.50 519.00L99.00 521.50L96.50 524.00L94.00 521.50Z" fill="#4b5f9f"/>
<path d="M102.10 519.30L104.60 521.80L102.10 524.30L99.60 521.80Z" fill="#4b5f9f"/>
<path d="M93.10 522.50L95.60 525.00L93.10 527.50L90.60 525.00Z" fill="#4b5f9f"/>
<path d="M97.20 527.70L99.70 530.20L97.20 532.70L94.70 530.20Z" fill="#4b5f9f"/>
<line x1="91.00" y1="516.30" x2="104.00" y2="516.30" stroke="#111" stroke-width="1.5" />
<circle cx="125.00" cy="512.50" r="2.25" fill="#c14b48"/>
<circle cx="128.50" cy="512.00" r="2.25" fill="#c14b48"/>
<circle cx="132.50" cy="512.00" r="2.25" fill="#c14b48"/>
<circle cx="135.00" cy="513.00" r="2.25" fill="#c14b48"/>
<circle cx="124.80" cy="516.00" r="2.25" fill="#c14b48"/>
<circle cx="128.50" cy="517.00" r="2.25" fill="#c14b48"/>
<circle cx="132.00" cy="516.50" r="2.25" fill="#c14b48"/>
<circle cx="135.00" cy="516.00" r="2.25" fill="#c14b48"/>
<circle cx="126.00" cy="520.00" r="2.25" fill="#c14b48"/>
<circle cx="129.50" cy="521.00" r="2.25" fill="#c14b48"/>
<circle cx="134.50" cy="521.00" r="2.25" fill="#c14b48"/>
<circle cx="134.00" cy="523.50" r="2.25" fill="#c14b48"/>
<circle cx="125.80" cy="526.00" r="2.25" fill="#c14b48"/>
<circle cx="125.80" cy="537.60" r="2.25" fill="#c14b48"/>
<circle cx="129.20" cy="535.00" r="2.25" fill="#c14b48"/>
<circle cx="132.30" cy="535.50" r="2.25" fill="#c14b48"/>
<circle cx="134.60" cy="535.30" r="2.25" fill="#c14b48"/>
<line x1="123.20" y1="517.70" x2="136.90" y2="517.70" stroke="#111" stroke-width="1.5" />
<path d="M145.50 509.50L148.00 512.00L145.50 514.50L143.00 512.00Z" fill="#4b5f9f"/>
<path d="M149.60 509.50L152.10 512.00L149.60 514.50L147.10 512.00Z" fill="#4b5f9f"/>
<path d="M154.20 511.50L156.70 514.00L154.20 516.50L151.70 514.00Z" fill="#4b5f9f"/>
<path d="M145.50 513.50L148.00 516.00L145.50 518.50L143.00 516.00Z" fill="#4b5f9f"/>
<path d="M149.60 515.50L152.10 518.00L149.60 520.50L147.10 518.00Z" fill="#4b5f9f"/>
<path d="M154.20 516.00L156.70 518.50L154.20 521.00L151.70 518.50Z" fill="#4b5f9f"/>
<path d="M145.50 518.00L148.00 520.50L145.50 523.00L143.00 520.50Z" fill="#4b5f9f"/>
<path d="M150.00 518.50L152.50 521.00L150.00 523.50L147.50 521.00Z" fill="#4b5f9f"/>
<path d="M154.20 519.50L156.70 522.00L154.20 524.50L151.70 522.00Z" fill="#4b5f9f"/>
<path d="M145.50 523.50L148.00 526.00L145.50 528.50L143.00 526.00Z" fill="#4b5f9f"/>
<path d="M149.60 523.50L152.10 526.00L149.60 528.50L147.10 526.00Z" fill="#4b5f9f"/>
<path d="M154.20 523.50L156.70 526.00L154.20 528.50L151.70 526.00Z" fill="#4b5f9f"/>
<path d="M145.50 528.50L148.00 531.00L145.50 533.50L143.00 531.00Z" fill="#4b5f9f"/>
<path d="M149.60 527.00L152.10 529.50L149.60 532.00L147.10 529.50Z" fill="#4b5f9f"/>
<path d="M154.20 529.50L156.70 532.00L154.20 534.50L151.70 532.00Z" fill="#4b5f9f"/>
<path d="M145.50 536.90L148.00 539.40L145.50 541.90L143.00 539.40Z" fill="#4b5f9f"/>
<path d="M154.20 536.90L156.70 539.40L154.20 541.90L151.70 539.40Z" fill="#4b5f9f"/>
<path d="M149.50 551.90L152.00 554.40L149.50 556.90L147.00 554.40Z" fill="#4b5f9f"/>
<path d="M149.50 591.60L152.00 594.10L149.50 596.60L147.00 594.10Z" fill="#4b5f9f"/>
<line x1="143.10" y1="522.70" x2="156.10" y2="522.70" stroke="#111" stroke-width="1.5" />
<path d="M130.1 508.8V506.2H150.7V508.8" fill="none" stroke="#111" stroke-width="1.1"/>
<line x1="140.00" y1="500.30" x2="140.00" y2="504.10" stroke="#222" stroke-width="0.9" />
<line x1="138.35" y1="501.25" x2="141.65" y2="503.15" stroke="#222" stroke-width="0.9" />
<line x1="141.65" y1="501.25" x2="138.35" y2="503.15" stroke="#222" stroke-width="0.9" />
<circle cx="178.00" cy="514.50" r="2.25" fill="#c14b48"/>
<circle cx="182.30" cy="515.50" r="2.25" fill="#c14b48"/>
<circle cx="186.80" cy="515.00" r="2.25" fill="#c14b48"/>
<circle cx="178.00" cy="519.00" r="2.25" fill="#c14b48"/>
<circle cx="182.30" cy="519.00" r="2.25" fill="#c14b48"/>
<circle cx="186.80" cy="519.00" r="2.25" fill="#c14b48"/>
<circle cx="178.00" cy="522.00" r="2.25" fill="#c14b48"/>
<circle cx="182.30" cy="523.50" r="2.25" fill="#c14b48"/>
<circle cx="186.80" cy="522.00" r="2.25" fill="#c14b48"/>
<circle cx="177.90" cy="527.70" r="2.25" fill="#c14b48"/>
<circle cx="186.70" cy="526.70" r="2.25" fill="#c14b48"/>
<circle cx="182.30" cy="533.90" r="2.25" fill="#c14b48"/>
<circle cx="186.70" cy="539.00" r="2.25" fill="#c14b48"/>
<circle cx="177.90" cy="542.90" r="2.25" fill="#c14b48"/>
<circle cx="177.90" cy="549.20" r="2.25" fill="#c14b48"/>
<circle cx="186.70" cy="547.40" r="2.25" fill="#c14b48"/>
<line x1="176.00" y1="522.40" x2="189.00" y2="522.40" stroke="#111" stroke-width="1.5" />
<path d="M202.00 513.50L204.50 516.00L202.00 518.50L199.50 516.00Z" fill="#4b5f9f"/>
<path d="M197.70 519.60L200.20 522.10L197.70 524.60L195.20 522.10Z" fill="#4b5f9f"/>
<path d="M199.80 520.80L202.30 523.30L199.80 525.80L197.30 523.30Z" fill="#4b5f9f"/>
<path d="M205.80 519.30L208.30 521.80L205.80 524.30L203.30 521.80Z" fill="#4b5f9f"/>
<path d="M204.30 521.00L206.80 523.50L204.30 526.00L201.80 523.50Z" fill="#4b5f9f"/>
<path d="M202.30 523.70L204.80 526.20L202.30 528.70L199.80 526.20Z" fill="#4b5f9f"/>
<path d="M200.20 527.30L202.70 529.80L200.20 532.30L197.70 529.80Z" fill="#4b5f9f"/>
<path d="M197.70 531.40L200.20 533.90L197.70 536.40L195.20 533.90Z" fill="#4b5f9f"/>
<path d="M202.30 531.00L204.80 533.50L202.30 536.00L199.80 533.50Z" fill="#4b5f9f"/>
<path d="M205.80 531.40L208.30 533.90L205.80 536.40L203.30 533.90Z" fill="#4b5f9f"/>
<path d="M197.30 536.00L199.80 538.50L197.30 541.00L194.80 538.50Z" fill="#4b5f9f"/>
<path d="M201.80 535.30L204.30 537.80L201.80 540.30L199.30 537.80Z" fill="#4b5f9f"/>
<path d="M206.20 537.50L208.70 540.00L206.20 542.50L203.70 540.00Z" fill="#4b5f9f"/>
<path d="M202.30 542.60L204.80 545.10L202.30 547.60L199.80 545.10Z" fill="#4b5f9f"/>
<path d="M202.30 556.40L204.80 558.90L202.30 561.40L199.80 558.90Z" fill="#4b5f9f"/>
<path d="M202.20 667.50L204.70 670.00L202.20 672.50L199.70 670.00Z" fill="#4b5f9f"/>
<line x1="195.60" y1="533.90" x2="208.90" y2="533.90" stroke="#111" stroke-width="1.5" />
<path d="M182.0 508.3V506.0H202.3V508.3" fill="none" stroke="#111" stroke-width="1.1"/>
<line x1="192.00" y1="500.30" x2="192.00" y2="504.10" stroke="#222" stroke-width="0.9" />
<line x1="190.35" y1="501.25" x2="193.65" y2="503.15" stroke="#222" stroke-width="0.9" />
<line x1="193.65" y1="501.25" x2="190.35" y2="503.15" stroke="#222" stroke-width="0.9" />
<circle cx="264.00" cy="511.30" r="2.25" fill="#c14b48"/>
<circle cx="267.50" cy="510.80" r="2.25" fill="#c14b48"/>
<circle cx="271.00" cy="511.30" r="2.25" fill="#c14b48"/>
<circle cx="263.80" cy="514.50" r="2.25" fill="#c14b48"/>
<circle cx="267.50" cy="514.30" r="2.25" fill="#c14b48"/>
<circle cx="271.50" cy="514.50" r="2.25" fill="#c14b48"/>
<circle cx="263.80" cy="517.50" r="2.25" fill="#c14b48"/>
<circle cx="267.30" cy="517.80" r="2.25" fill="#c14b48"/>
<circle cx="271.30" cy="517.50" r="2.25" fill="#c14b48"/>
<circle cx="264.50" cy="519.30" r="2.25" fill="#c14b48"/>
<circle cx="268.00" cy="520.00" r="2.25" fill="#c14b48"/>
<circle cx="271.00" cy="519.50" r="2.25" fill="#c14b48"/>
<circle cx="267.50" cy="525.10" r="2.25" fill="#c14b48"/>
<line x1="261.00" y1="513.80" x2="274.00" y2="513.80" stroke="#111" stroke-width="1.5" />
<path d="M281.50 509.30L284.00 511.80L281.50 514.30L279.00 511.80Z" fill="#4b5f9f"/>
<path d="M284.80 509.00L287.30 511.50L284.80 514.00L282.30 511.50Z" fill="#4b5f9f"/>
<path d="M288.00 509.30L290.50 511.80L288.00 514.30L285.50 511.80Z" fill="#4b5f9f"/>
<path d="M281.00 512.50L283.50 515.00L281.00 517.50L278.50 515.00Z" fill="#4b5f9f"/>
<path d="M284.80 512.30L287.30 514.80L284.80 517.30L282.30 514.80Z" fill="#4b5f9f"/>
<path d="M288.50 512.50L291.00 515.00L288.50 517.50L286.00 515.00Z" fill="#4b5f9f"/>
<path d="M282.00 515.50L284.50 518.00L282.00 520.50L279.50 518.00Z" fill="#4b5f9f"/>
<path d="M285.50 515.50L288.00 518.00L285.50 520.50L283.00 518.00Z" fill="#4b5f9f"/>
<path d="M288.50 516.00L291.00 518.50L288.50 521.00L286.00 518.50Z" fill="#4b5f9f"/>
<path d="M283.50 518.00L286.00 520.50L283.50 523.00L281.00 520.50Z" fill="#4b5f9f"/>
<path d="M288.30 519.00L290.80 521.50L288.30 524.00L285.80 521.50Z" fill="#4b5f9f"/>
<path d="M281.00 521.70L283.50 524.20L281.00 526.70L278.50 524.20Z" fill="#4b5f9f"/>
<path d="M284.80 526.50L287.30 529.00L284.80 531.50L282.30 529.00Z" fill="#4b5f9f"/>
<path d="M281.00 529.90L283.50 532.40L281.00 534.90L278.50 532.40Z" fill="#4b5f9f"/>
<path d="M288.30 529.10L290.80 531.60L288.30 534.10L285.80 531.60Z" fill="#4b5f9f"/>
<path d="M284.80 544.20L287.30 546.70L284.80 549.20L282.30 546.70Z" fill="#4b5f9f"/>
<line x1="278.00" y1="515.10" x2="291.00" y2="515.10" stroke="#111" stroke-width="1.5" />
<circle cx="317.00" cy="511.00" r="2.25" fill="#c14b48"/>
<circle cx="320.30" cy="509.80" r="2.25" fill="#c14b48"/>
<circle cx="323.50" cy="511.00" r="2.25" fill="#c14b48"/>
<circle cx="316.00" cy="514.00" r="2.25" fill="#c14b48"/>
<circle cx="320.00" cy="514.00" r="2.25" fill="#c14b48"/>
<circle cx="324.50" cy="514.00" r="2.25" fill="#c14b48"/>
<circle cx="318.00" cy="517.50" r="2.25" fill="#c14b48"/>
<circle cx="322.00" cy="517.50" r="2.25" fill="#c14b48"/>
<circle cx="316.80" cy="523.50" r="2.25" fill="#c14b48"/>
<circle cx="323.80" cy="522.40" r="2.25" fill="#c14b48"/>
<circle cx="320.30" cy="534.90" r="2.25" fill="#c14b48"/>
<circle cx="320.30" cy="546.40" r="2.25" fill="#c14b48"/>
<circle cx="320.30" cy="552.60" r="2.25" fill="#c14b48"/>
<circle cx="320.30" cy="571.80" r="2.25" fill="#c14b48"/>
<line x1="313.70" y1="515.80" x2="326.80" y2="515.80" stroke="#111" stroke-width="1.5" />
<path d="M334.00 509.50L336.50 512.00L334.00 514.50L331.50 512.00Z" fill="#4b5f9f"/>
<path d="M337.50 508.50L340.00 511.00L337.50 513.50L335.00 511.00Z" fill="#4b5f9f"/>
<path d="M341.00 509.00L343.50 511.50L341.00 514.00L338.50 511.50Z" fill="#4b5f9f"/>
<path d="M333.00 512.50L335.50 515.00L333.00 517.50L330.50 515.00Z" fill="#4b5f9f"/>
<path d="M337.00 512.50L339.50 515.00L337.00 517.50L334.50 515.00Z" fill="#4b5f9f"/>
<path d="M340.50 513.50L343.00 516.00L340.50 518.50L338.00 516.00Z" fill="#4b5f9f"/>
<path d="M334.50 516.00L337.00 518.50L334.50 521.00L332.00 518.50Z" fill="#4b5f9f"/>
<path d="M338.00 516.50L340.50 519.00L338.00 521.50L335.50 519.00Z" fill="#4b5f9f"/>
<path d="M333.60 523.20L336.10 525.70L333.60 528.20L331.10 525.70Z" fill="#4b5f9f"/>
<path d="M340.80 521.50L343.30 524.00L340.80 526.50L338.30 524.00Z" fill="#4b5f9f"/>
<path d="M337.20 530.80L339.70 533.30L337.20 535.80L334.70 533.30Z" fill="#4b5f9f"/>
<path d="M333.60 539.20L336.10 541.70L333.60 544.20L331.10 541.70Z" fill="#4b5f9f"/>
<path d="M337.20 536.80L339.70 539.30L337.20 541.80L334.70 539.30Z" fill="#4b5f9f"/>
<path d="M340.80 539.20L343.30 541.70L340.80 544.20L338.30 541.70Z" fill="#4b5f9f"/>
<path d="M337.20 551.00L339.70 553.50L337.20 556.00L334.70 553.50Z" fill="#4b5f9f"/>
<path d="M337.20 562.50L339.70 565.00L337.20 567.50L334.70 565.00Z" fill="#4b5f9f"/>
<path d="M337.50 667.50L340.00 670.00L337.50 672.50L335.00 670.00Z" fill="#4b5f9f"/>
<line x1="330.70" y1="518.80" x2="343.80" y2="518.80" stroke="#111" stroke-width="1.5" />
<circle cx="371.50" cy="511.50" r="2.25" fill="#c14b48"/>
<circle cx="374.50" cy="511.00" r="2.25" fill="#c14b48"/>
<circle cx="377.50" cy="512.50" r="2.25" fill="#c14b48"/>
<circle cx="370.50" cy="515.50" r="2.25" fill="#c14b48"/>
<circle cx="374.00" cy="515.00" r="2.25" fill="#c14b48"/>
<circle cx="378.00" cy="516.00" r="2.25" fill="#c14b48"/>
<circle cx="369.50" cy="519.00" r="2.25" fill="#c14b48"/>
<circle cx="373.00" cy="519.50" r="2.25" fill="#c14b48"/>
<circle cx="378.00" cy="520.00" r="2.25" fill="#c14b48"/>
<circle cx="370.50" cy="523.50" r="2.25" fill="#c14b48"/>
<circle cx="376.50" cy="523.50" r="2.25" fill="#c14b48"/>
<circle cx="370.00" cy="530.00" r="2.25" fill="#c14b48"/>
<circle cx="376.80" cy="529.70" r="2.25" fill="#c14b48"/>
<circle cx="373.40" cy="543.00" r="2.25" fill="#c14b48"/>
<circle cx="370.00" cy="560.00" r="2.25" fill="#c14b48"/>
<circle cx="376.80" cy="558.90" r="2.25" fill="#c14b48"/>
<circle cx="373.40" cy="577.10" r="2.25" fill="#c14b48"/>
<line x1="367.00" y1="521.80" x2="380.20" y2="521.80" stroke="#111" stroke-width="1.5" />
<path d="M387.00 510.00L389.50 512.50L387.00 515.00L384.50 512.50Z" fill="#4b5f9f"/>
<path d="M391.00 509.50L393.50 512.00L391.00 514.50L388.50 512.00Z" fill="#4b5f9f"/>
<path d="M393.00 513.00L395.50 515.50L393.00 518.00L390.50 515.50Z" fill="#4b5f9f"/>
<path d="M395.00 514.50L397.50 517.00L395.00 519.50L392.50 517.00Z" fill="#4b5f9f"/>
<path d="M390.00 515.00L392.50 517.50L390.00 520.00L387.50 517.50Z" fill="#4b5f9f"/>
<path d="M387.00 518.00L389.50 520.50L387.00 523.00L384.50 520.50Z" fill="#4b5f9f"/>
<path d="M391.00 518.50L393.50 521.00L391.00 523.50L388.50 521.00Z" fill="#4b5f9f"/>
<path d="M394.50 518.00L397.00 520.50L394.50 523.00L392.00 520.50Z" fill="#4b5f9f"/>
<path d="M388.00 521.50L390.50 524.00L388.00 526.50L385.50 524.00Z" fill="#4b5f9f"/>
<path d="M392.00 521.50L394.50 524.00L392.00 526.50L389.50 524.00Z" fill="#4b5f9f"/>
<path d="M390.20 530.00L392.70 532.50L390.20 535.00L387.70 532.50Z" fill="#4b5f9f"/>
<path d="M390.20 535.70L392.70 538.20L390.20 540.70L387.70 538.20Z" fill="#4b5f9f"/>
<path d="M393.90 561.60L396.40 564.10L393.90 566.60L391.40 564.10Z" fill="#4b5f9f"/>
<path d="M387.00 566.10L389.50 568.60L387.00 571.10L384.50 568.60Z" fill="#4b5f9f"/>
<path d="M390.20 584.50L392.70 587.00L390.20 589.50L387.70 587.00Z" fill="#4b5f9f"/>
<path d="M390.50 667.50L393.00 670.00L390.50 672.50L388.00 670.00Z" fill="#4b5f9f"/>
<line x1="384.30" y1="525.60" x2="396.60" y2="525.60" stroke="#111" stroke-width="1.5" />
<circle cx="425.90" cy="515.30" r="2.25" fill="#c14b48"/>
<circle cx="425.90" cy="521.00" r="2.25" fill="#c14b48"/>
<circle cx="422.70" cy="524.20" r="2.25" fill="#c14b48"/>
<circle cx="429.80" cy="523.80" r="2.25" fill="#c14b48"/>
<circle cx="422.70" cy="531.60" r="2.25" fill="#c14b48"/>
<circle cx="425.90" cy="531.00" r="2.25" fill="#c14b48"/>
<circle cx="429.80" cy="531.60" r="2.25" fill="#c14b48"/>
<circle cx="425.90" cy="536.60" r="2.25" fill="#c14b48"/>
<circle cx="422.70" cy="557.90" r="2.25" fill="#c14b48"/>
<circle cx="425.90" cy="557.50" r="2.25" fill="#c14b48"/>
<circle cx="429.80" cy="557.90" r="2.25" fill="#c14b48"/>
<circle cx="425.90" cy="568.50" r="2.25" fill="#c14b48"/>
<circle cx="425.90" cy="587.70" r="2.25" fill="#c14b48"/>
<line x1="420.00" y1="531.60" x2="432.50" y2="531.60" stroke="#111" stroke-width="1.5" />
<path d="M439.60 521.30L442.10 523.80L439.60 526.30L437.10 523.80Z" fill="#4b5f9f"/>
<path d="M443.10 518.10L445.60 520.60L443.10 523.10L440.60 520.60Z" fill="#4b5f9f"/>
<path d="M447.20 519.00L449.70 521.50L447.20 524.00L444.70 521.50Z" fill="#4b5f9f"/>
<path d="M439.60 527.00L442.10 529.50L439.60 532.00L437.10 529.50Z" fill="#4b5f9f"/>
<path d="M447.20 526.60L449.70 529.10L447.20 531.60L444.70 529.10Z" fill="#4b5f9f"/>
<path d="M439.60 532.30L442.10 534.80L439.60 537.30L437.10 534.80Z" fill="#4b5f9f"/>
<path d="M439.60 539.10L442.10 541.60L439.60 544.10L437.10 541.60Z" fill="#4b5f9f"/>
<path d="M447.20 536.80L449.70 539.30L447.20 541.80L444.70 539.30Z" fill="#4b5f9f"/>
<path d="M443.10 544.70L445.60 547.20L443.10 549.70L440.60 547.20Z" fill="#4b5f9f"/>
<path d="M443.10 553.20L445.60 555.70L443.10 558.20L440.60 555.70Z" fill="#4b5f9f"/>
<path d="M443.10 588.70L445.60 591.20L443.10 593.70L440.60 591.20Z" fill="#4b5f9f"/>
<path d="M443.10 621.90L445.60 624.40L443.10 626.90L440.60 624.40Z" fill="#4b5f9f"/>
<path d="M443.25 667.50L445.75 670.00L443.25 672.50L440.75 670.00Z" fill="#4b5f9f"/>
<line x1="436.90" y1="539.30" x2="450.20" y2="539.30" stroke="#111" stroke-width="1.5" />
<line x1="221.90" y1="713.40" x2="282.70" y2="713.40" stroke="#111" stroke-width="1.1" />
<circle cx="228.80" cy="719.70" r="2.25" fill="#c14b48"/>
<text x="234.20" y="722.80" font-size="8.6" text-anchor="start" fill="#222" textLength="13.10" lengthAdjust="spacingAndGlyphs" >QD</text>
<path d="M258.10 717.30L260.50 719.70L258.10 722.10L255.70 719.70Z" fill="#4b5f9f"/>
<text x="263.50" y="722.80" font-size="8.6" text-anchor="start" fill="#222" textLength="13.00" lengthAdjust="spacingAndGlyphs" >BID</text>
</svg></body></html>
